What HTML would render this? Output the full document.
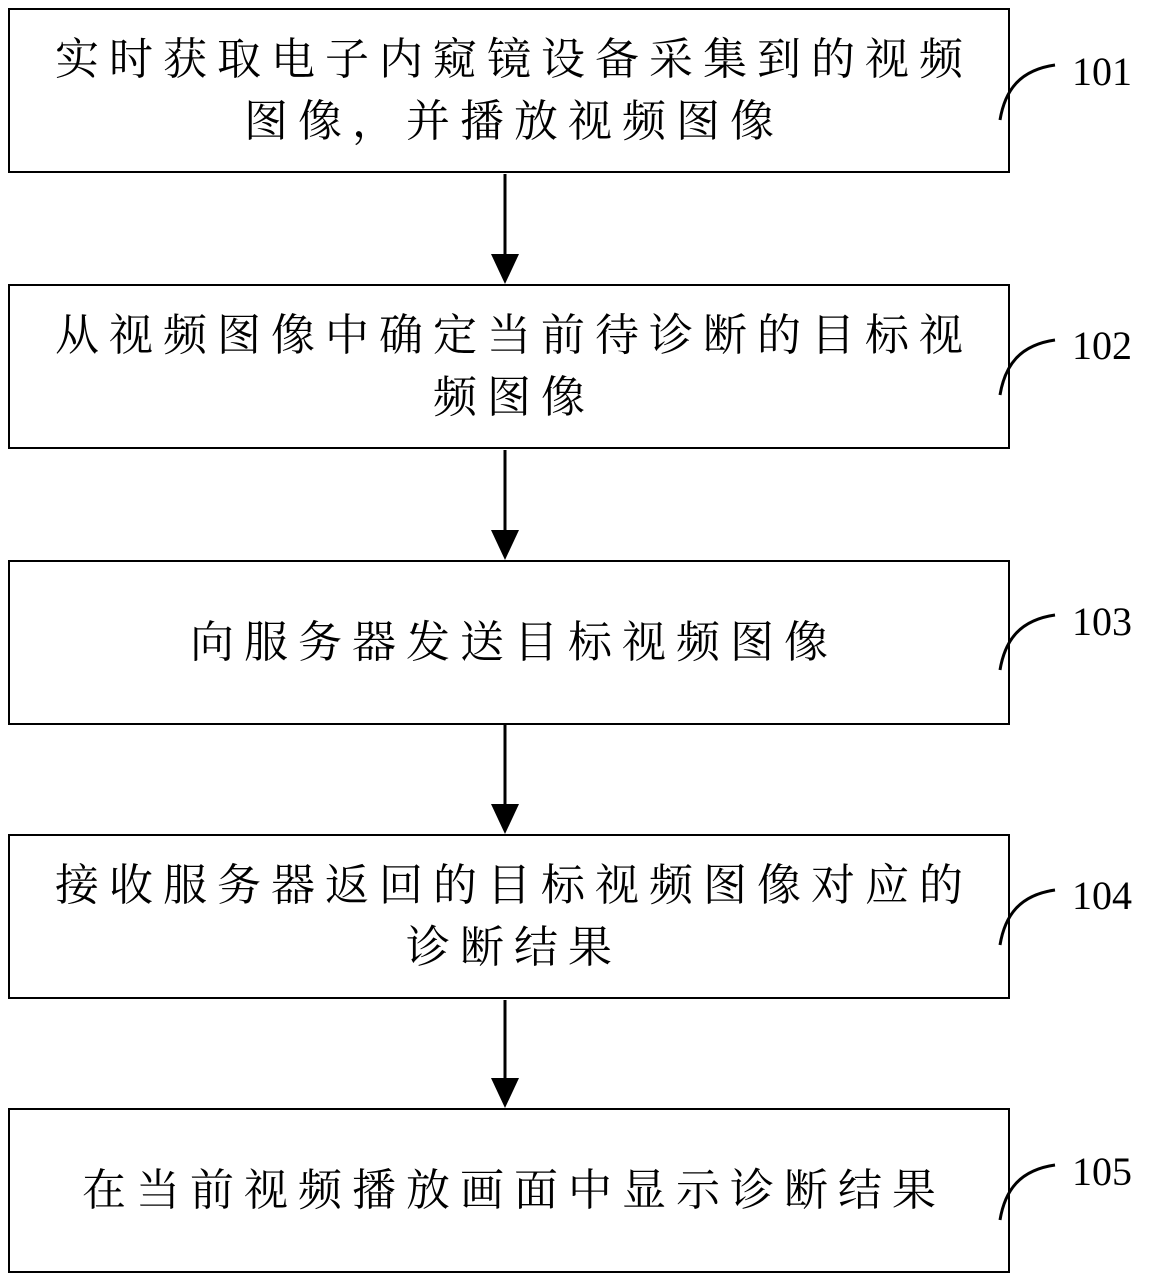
<!DOCTYPE html>
<html><head><meta charset="utf-8"><style>
body{margin:0;background:#fff;width:1150px;height:1281px;position:relative;overflow:hidden;font-family:"Liberation Serif","Noto Serif CJK SC",serif;}
.b{position:absolute;left:8px;width:988px;height:161px;border:2.5px solid #000;display:flex;align-items:center;justify-content:center;text-align:center;font-size:44px;letter-spacing:10px;line-height:62px;padding-left:10px;box-sizing:content-box;}
.l{position:absolute;left:1072px;font-size:40px;font-family:"Liberation Serif",serif;}
</style></head><body>
<div class="b" style="top:8px">实时获取电子内窥镜设备采集到的视频<br>图像，并播放视频图像</div>
<div class="b" style="top:284px">从视频图像中确定当前待诊断的目标视<br>频图像</div>
<div class="b" style="top:560px">向服务器发送目标视频图像</div>
<div class="b" style="top:834px">接收服务器返回的目标视频图像对应的<br>诊断结果</div>
<div class="b" style="top:1108px">在当前视频播放画面中显示诊断结果</div>
<div class="l" style="top:48px">101</div>
<div class="l" style="top:322px">102</div>
<div class="l" style="top:598px">103</div>
<div class="l" style="top:872px">104</div>
<div class="l" style="top:1148px">105</div>
<svg width="1150" height="1281" style="position:absolute;left:0;top:0">
<g stroke="#000" stroke-width="3" fill="none">
<line x1="505" y1="174" x2="505" y2="260"/>
<line x1="505" y1="450" x2="505" y2="536"/>
<line x1="505" y1="725" x2="505" y2="810"/>
<line x1="505" y1="1000" x2="505" y2="1084"/>
<path d="M1000 120 C1005 90 1020 70 1055 65"/>
<path d="M1000 395 C1005 365 1020 345 1055 340"/>
<path d="M1000 670 C1005 640 1020 620 1055 615"/>
<path d="M1000 945 C1005 915 1020 895 1055 890"/>
<path d="M1000 1220 C1005 1190 1020 1170 1055 1165"/>
</g>
<g fill="#000">
<polygon points="491,254 519,254 505,284"/>
<polygon points="491,530 519,530 505,560"/>
<polygon points="491,804 519,804 505,834"/>
<polygon points="491,1078 519,1078 505,1108"/>
</g>
</svg>
</body></html>
